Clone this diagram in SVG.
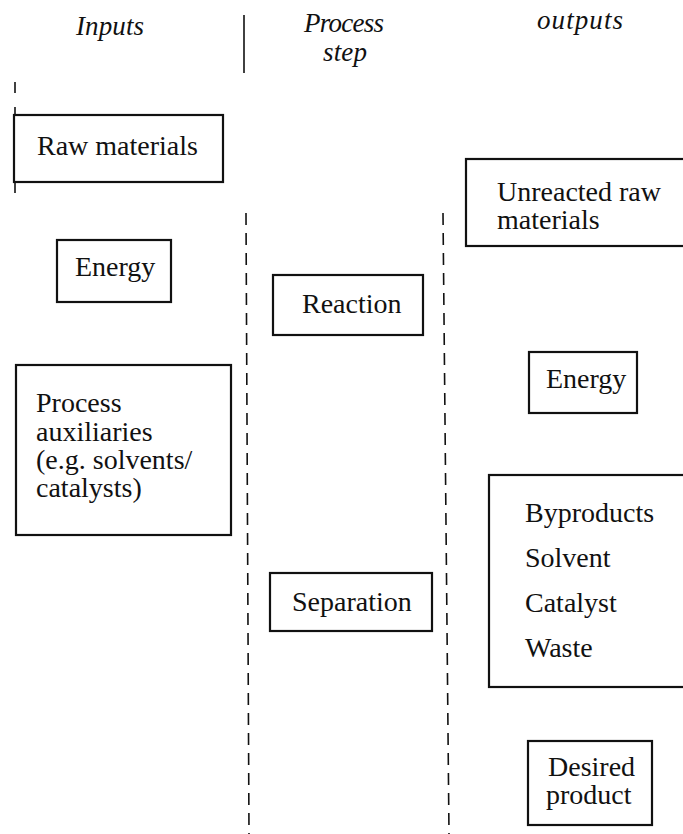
<svg xmlns="http://www.w3.org/2000/svg" width="683" height="834" viewBox="0 0 683 834">
<style>
.box{fill:#fff;stroke:#111;stroke-width:2.2}
.t{font-family:"Liberation Serif","Times New Roman",serif;font-size:28px;fill:#111}
.h{font-family:"Liberation Serif","Times New Roman",serif;font-size:27px;font-style:italic;fill:#111}
.sep{stroke:#111;stroke-width:1.6;fill:none}
.dash{stroke-dasharray:12 8}
</style>
<rect width="683" height="834" fill="#fff"/>
<g id="headers">
<text class="h" x="76" y="35" textLength="68">Inputs</text>
<text class="h" x="304" y="32" textLength="80">Process</text>
<text class="h" x="323" y="61" textLength="44">step</text>
<text class="h" x="537" y="29" textLength="86">outputs</text>
</g>
<g id="separators">
<line class="sep" x1="244" y1="15" x2="244" y2="73"/>
<line class="sep" x1="15" y1="82" x2="15" y2="93"/>
<line class="sep" x1="15" y1="107" x2="15" y2="193"/>
<line class="sep dash" x1="246" y1="213" x2="249" y2="834"/>
<line class="sep dash" x1="443" y1="213" x2="449" y2="834"/>
</g>
<g id="raw-materials">
<rect class="box" x="14" y="115" width="209" height="67"/>
<text class="t" x="37" y="155">Raw materials</text>
</g>
<g id="energy-in">
<rect class="box" x="57" y="240" width="114" height="62"/>
<text class="t" x="75" y="276">Energy</text>
</g>
<g id="process-auxiliaries">
<rect class="box" x="16" y="365" width="215" height="170"/>
<text class="t" x="36" y="412">Process</text>
<text class="t" x="36" y="441">auxiliaries</text>
<text class="t" x="36" y="469">(e.g. solvents/</text>
<text class="t" x="36" y="497">catalysts)</text>
</g>
<g id="reaction">
<rect class="box" x="273" y="275" width="150" height="60"/>
<text class="t" x="302" y="313">Reaction</text>
</g>
<g id="separation">
<rect class="box" x="270" y="573" width="162" height="58"/>
<text class="t" x="292" y="611">Separation</text>
</g>
<g id="unreacted-raw-materials">
<rect class="box" x="466" y="159" width="240" height="87"/>
<text class="t" x="497" y="201">Unreacted raw</text>
<text class="t" x="497" y="229">materials</text>
</g>
<g id="energy-out">
<rect class="box" x="529" y="352" width="108" height="61"/>
<text class="t" x="546" y="388">Energy</text>
</g>
<g id="byproducts">
<rect class="box" x="489" y="475" width="220" height="212"/>
<text class="t" x="525" y="522">Byproducts</text>
<text class="t" x="525" y="567">Solvent</text>
<text class="t" x="525" y="612">Catalyst</text>
<text class="t" x="525" y="657">Waste</text>
</g>
<g id="desired-product">
<rect class="box" x="528" y="741" width="124" height="84"/>
<text class="t" x="548" y="776">Desired</text>
<text class="t" x="546" y="804">product</text>
</g>
</svg>
